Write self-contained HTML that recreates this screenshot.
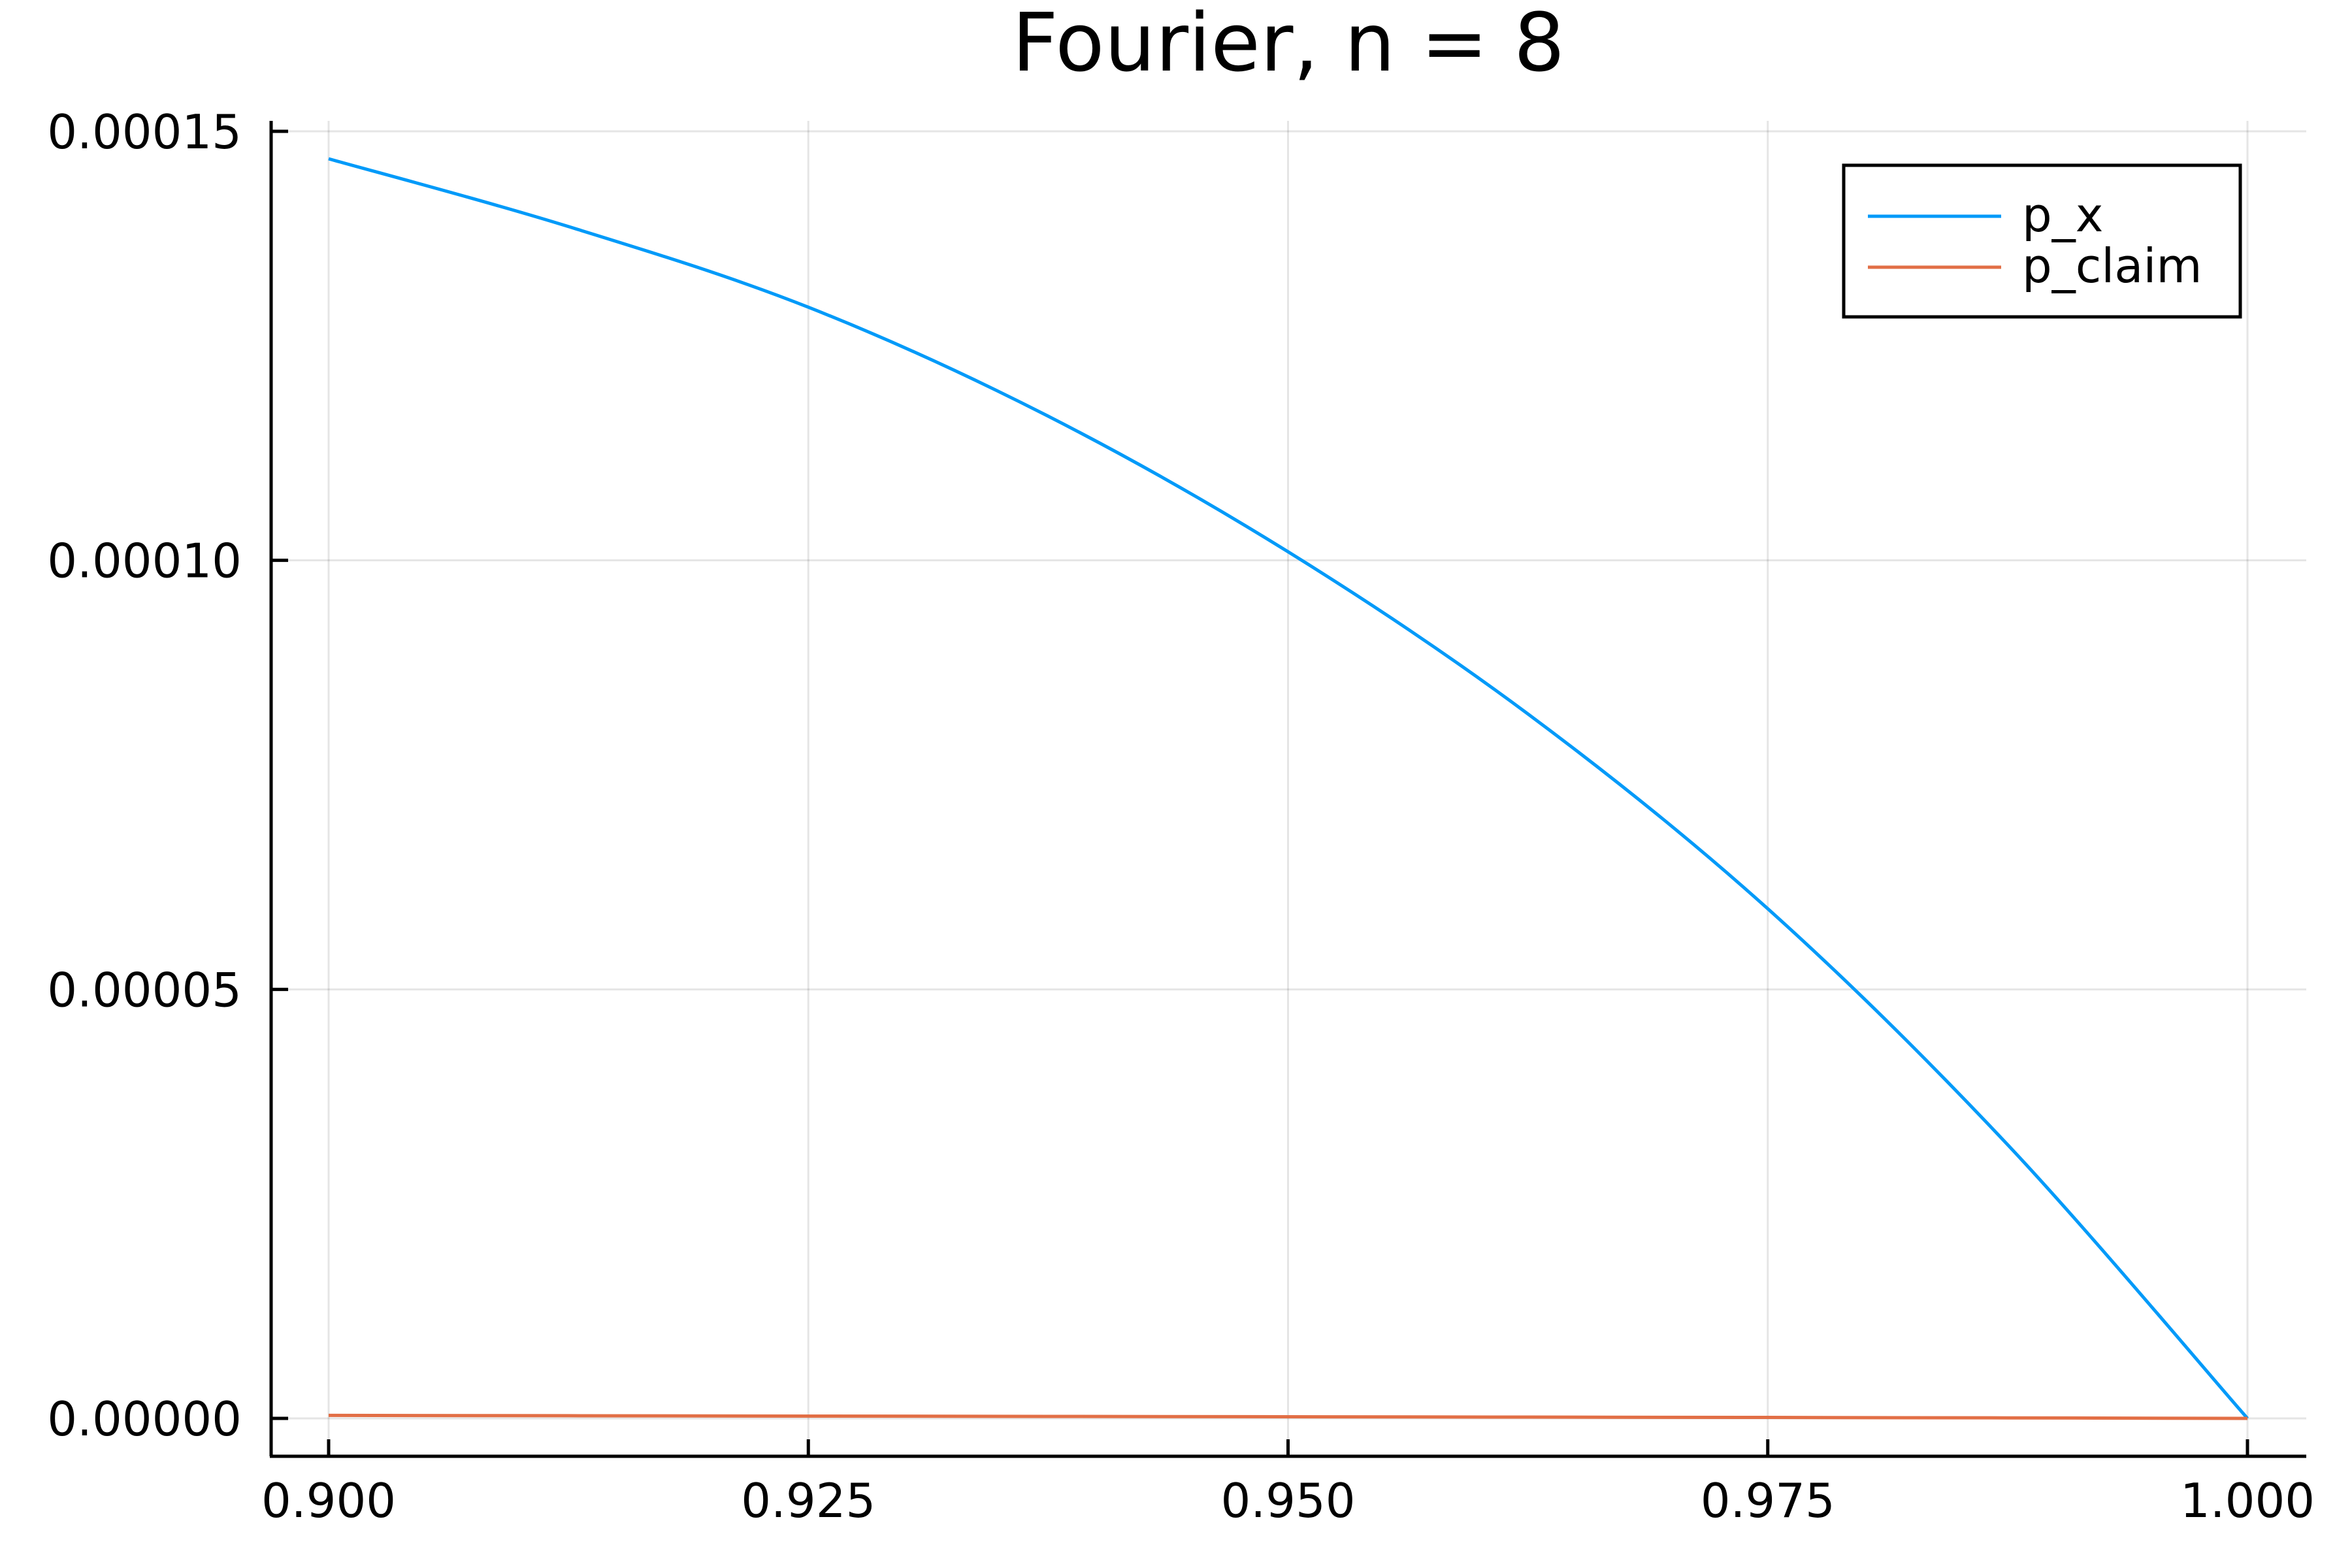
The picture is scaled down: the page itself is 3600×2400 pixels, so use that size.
<!DOCTYPE html>
<html><head><meta charset="utf-8"><style>
html,body{margin:0;padding:0;background:#fff;}
svg{display:block;font-family:"DejaVu Sans","Liberation Sans",sans-serif;}
</style></head><body>
<svg id="chart" width="3600" height="2400" viewBox="0 0 3600 2400" xmlns="http://www.w3.org/2000/svg">
<rect width="3600" height="2400" fill="#fff"/>
<text x="1972" y="108" font-size="123" text-anchor="middle" fill="#000">Fourier, n = 8</text>
<g id="grid"></g>
<g id="axes"></g>
<g id="series"></g>
<g>
<rect x="2822" y="253" width="607" height="232" fill="#fff" stroke="#000" stroke-width="5"/>
<line x1="2859" y1="331" x2="3063" y2="331" stroke="#009af9" stroke-width="5"/>
<text x="3095" y="354" font-size="72" fill="#000">p_x</text>
<line x1="2859" y1="409" x2="3063" y2="409" stroke="#e26f46" stroke-width="5"/>
<text x="3095" y="432" font-size="72" fill="#000">p_claim</text>
</g>
</svg>
<script>
const xValues = [0.9, 0.9125, 0.925, 0.9375, 0.95, 0.9625, 0.975, 0.9875, 1.0];
const pX = [1.468e-4, 1.389e-4, 1.295e-4, 1.168e-4, 1.010e-4, 8.21e-5, 5.94e-5, 3.19e-5, 0];
const pClaim = [3.5e-7, 3.1e-7, 2.7e-7, 2.3e-7, 1.9e-7, 1.5e-7, 1.1e-7, 6e-8, 0];
const xTicks = [0.9, 0.925, 0.95, 0.975, 1.0];
const xTickLabels = ["0.900", "0.925", "0.950", "0.975", "1.000"];
const yTicks = [0, 5e-5, 1e-4, 1.5e-4];
const yTickLabels = ["0.00000", "0.00005", "0.00010", "0.00015"];

const NS = "http://www.w3.org/2000/svg";
const X0 = 503, X1 = 3440, Y0 = 2171, Y1 = 201;
const L = 415, R = 3530, T = 185, B = 2229;
function sx(v){ return X0 + (v - 0.9) / 0.1 * (X1 - X0); }
function sy(v){ return Y0 - v / 1.5e-4 * (Y0 - Y1); }
function mk(tag, attrs, parent){
  const e = document.createElementNS(NS, tag);
  for (const k in attrs) e.setAttribute(k, attrs[k]);
  parent.appendChild(e);
  return e;
}
const grid = document.getElementById('grid');
const axes = document.getElementById('axes');
const series = document.getElementById('series');

xTicks.forEach((v, i) => {
  const g = mk('line', {x1: sx(v), x2: sx(v), y1: T, y2: B, stroke: '#000', 'stroke-opacity': 0.1, 'stroke-width': 3}, grid);
  
  
  const t = mk('line', {x1: sx(v), x2: sx(v), y1: B, y2: B - 26, stroke: '#000', 'stroke-width': 5}, axes);
  
  
  const lb = mk('text', {x: sx(v), y: 2322, 'font-size': 72, 'text-anchor': 'middle', fill: '#000'}, axes);
  lb.textContent = xTickLabels[i];
  
  
});
yTicks.forEach((v, i) => {
  const g = mk('line', {x1: L, x2: R, y1: sy(v), y2: sy(v), stroke: '#000', 'stroke-opacity': 0.1, 'stroke-width': 3}, grid);
  
  
  const t = mk('line', {x1: L, x2: L + 26, y1: sy(v), y2: sy(v), stroke: '#000', 'stroke-width': 5}, axes);
  
  
  const lb = mk('text', {x: 370, y: sy(v) + 26, 'font-size': 72, 'text-anchor': 'end', fill: '#000'}, axes);
  lb.textContent = yTickLabels[i];
  
  
});
const ya = mk('line', {x1: L, x2: L, y1: T, y2: B, stroke: '#000', 'stroke-width': 5}, axes);


const xa = mk('line', {x1: L - 2, x2: R, y1: B, y2: B, stroke: '#000', 'stroke-width': 5}, axes);



function path(vals){
  const pts = xValues.map((x, i) => [sx(x), sy(vals[i])]);
  let d = 'M' + pts[0][0] + ',' + pts[0][1];
  for (let i = 0; i < pts.length - 1; i++) {
    const p0 = pts[Math.max(0, i - 1)], p1 = pts[i], p2 = pts[i + 1], p3 = pts[Math.min(pts.length - 1, i + 2)];
    const c1 = [p1[0] + (p2[0] - p0[0]) / 6, p1[1] + (p2[1] - p0[1]) / 6];
    const c2 = [p2[0] - (p3[0] - p1[0]) / 6, p2[1] - (p3[1] - p1[1]) / 6];
    d += ' C' + c1 + ' ' + c2 + ' ' + p2;
  }
  return d;
}
const l1 = mk('path', {d: path(pX), fill: 'none', stroke: '#009af9', 'stroke-width': 5}, series);


const l2 = mk('path', {d: path(pClaim), fill: 'none', stroke: '#e26f46', 'stroke-width': 5}, series);


</script>
</body></html>
